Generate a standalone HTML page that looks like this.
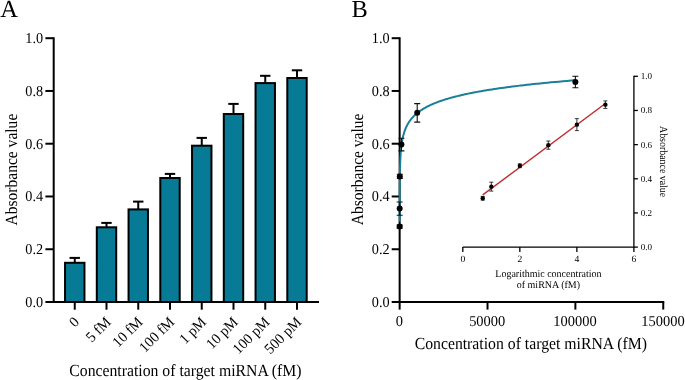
<!DOCTYPE html>
<html><head><meta charset="utf-8"><style>
html,body{margin:0;padding:0;background:#fff;width:685px;height:380px;overflow:hidden}
svg{display:block;font-family:"Liberation Serif", serif;will-change:transform;text-rendering:geometricPrecision}
</style></head><body>
<svg width="685" height="380" viewBox="0 0 685 380" font-family='"Liberation Serif", serif' fill="#000">
<text x="0.2" y="16.9" font-size="24.5">A</text>
<line x1="45.4" y1="302.00" x2="53.7" y2="302.00" stroke="#000" stroke-width="2.0"/>
<text font-size="15" text-anchor="end" transform="translate(43.1,307.00) scale(0.95,1)">0.0</text>
<line x1="45.4" y1="249.24" x2="53.7" y2="249.24" stroke="#000" stroke-width="2.0"/>
<text font-size="15" text-anchor="end" transform="translate(43.1,254.24) scale(0.95,1)">0.2</text>
<line x1="45.4" y1="196.48" x2="53.7" y2="196.48" stroke="#000" stroke-width="2.0"/>
<text font-size="15" text-anchor="end" transform="translate(43.1,201.48) scale(0.95,1)">0.4</text>
<line x1="45.4" y1="143.72" x2="53.7" y2="143.72" stroke="#000" stroke-width="2.0"/>
<text font-size="15" text-anchor="end" transform="translate(43.1,148.72) scale(0.95,1)">0.6</text>
<line x1="45.4" y1="90.96" x2="53.7" y2="90.96" stroke="#000" stroke-width="2.0"/>
<text font-size="15" text-anchor="end" transform="translate(43.1,95.96) scale(0.95,1)">0.8</text>
<line x1="45.4" y1="38.20" x2="53.7" y2="38.20" stroke="#000" stroke-width="2.0"/>
<text font-size="15" text-anchor="end" transform="translate(43.1,43.20) scale(0.95,1)">1.0</text>
<line x1="74.75" y1="262.80" x2="74.75" y2="257.90" stroke="#000" stroke-width="2"/>
<line x1="69.55" y1="257.90" x2="79.95" y2="257.90" stroke="#000" stroke-width="2"/>
<rect x="65.05" y="262.80" width="19.4" height="39.20" fill="#077b95" stroke="#000" stroke-width="2"/>
<line x1="74.75" y1="302.0" x2="74.75" y2="309.7" stroke="#000" stroke-width="2.0"/>
<text font-size="15" text-anchor="end" transform="translate(80.05,322.90) rotate(-45) scale(0.96,1)">0</text>
<line x1="106.50" y1="227.30" x2="106.50" y2="222.90" stroke="#000" stroke-width="2"/>
<line x1="101.30" y1="222.90" x2="111.70" y2="222.90" stroke="#000" stroke-width="2"/>
<rect x="96.80" y="227.30" width="19.4" height="74.70" fill="#077b95" stroke="#000" stroke-width="2"/>
<line x1="106.50" y1="302.0" x2="106.50" y2="309.7" stroke="#000" stroke-width="2.0"/>
<text font-size="15" text-anchor="end" transform="translate(111.80,322.90) rotate(-45) scale(0.96,1)">5 fM</text>
<line x1="138.25" y1="209.40" x2="138.25" y2="201.60" stroke="#000" stroke-width="2"/>
<line x1="133.05" y1="201.60" x2="143.45" y2="201.60" stroke="#000" stroke-width="2"/>
<rect x="128.55" y="209.40" width="19.4" height="92.60" fill="#077b95" stroke="#000" stroke-width="2"/>
<line x1="138.25" y1="302.0" x2="138.25" y2="309.7" stroke="#000" stroke-width="2.0"/>
<text font-size="15" text-anchor="end" transform="translate(143.55,322.90) rotate(-45) scale(0.96,1)">10 fM</text>
<line x1="170.00" y1="178.00" x2="170.00" y2="173.90" stroke="#000" stroke-width="2"/>
<line x1="164.80" y1="173.90" x2="175.20" y2="173.90" stroke="#000" stroke-width="2"/>
<rect x="160.30" y="178.00" width="19.4" height="124.00" fill="#077b95" stroke="#000" stroke-width="2"/>
<line x1="170.00" y1="302.0" x2="170.00" y2="309.7" stroke="#000" stroke-width="2.0"/>
<text font-size="15" text-anchor="end" transform="translate(175.30,322.90) rotate(-45) scale(0.96,1)">100 fM</text>
<line x1="201.75" y1="145.70" x2="201.75" y2="137.90" stroke="#000" stroke-width="2"/>
<line x1="196.55" y1="137.90" x2="206.95" y2="137.90" stroke="#000" stroke-width="2"/>
<rect x="192.05" y="145.70" width="19.4" height="156.30" fill="#077b95" stroke="#000" stroke-width="2"/>
<line x1="201.75" y1="302.0" x2="201.75" y2="309.7" stroke="#000" stroke-width="2.0"/>
<text font-size="15" text-anchor="end" transform="translate(207.05,322.90) rotate(-45) scale(0.96,1)">1 pM</text>
<line x1="233.50" y1="114.00" x2="233.50" y2="103.90" stroke="#000" stroke-width="2"/>
<line x1="228.30" y1="103.90" x2="238.70" y2="103.90" stroke="#000" stroke-width="2"/>
<rect x="223.80" y="114.00" width="19.4" height="188.00" fill="#077b95" stroke="#000" stroke-width="2"/>
<line x1="233.50" y1="302.0" x2="233.50" y2="309.7" stroke="#000" stroke-width="2.0"/>
<text font-size="15" text-anchor="end" transform="translate(238.80,322.90) rotate(-45) scale(0.96,1)">10 pM</text>
<line x1="265.25" y1="83.10" x2="265.25" y2="75.80" stroke="#000" stroke-width="2"/>
<line x1="260.05" y1="75.80" x2="270.45" y2="75.80" stroke="#000" stroke-width="2"/>
<rect x="255.55" y="83.10" width="19.4" height="218.90" fill="#077b95" stroke="#000" stroke-width="2"/>
<line x1="265.25" y1="302.0" x2="265.25" y2="309.7" stroke="#000" stroke-width="2.0"/>
<text font-size="15" text-anchor="end" transform="translate(270.55,322.90) rotate(-45) scale(0.96,1)">100 pM</text>
<line x1="297.00" y1="78.00" x2="297.00" y2="70.30" stroke="#000" stroke-width="2"/>
<line x1="291.80" y1="70.30" x2="302.20" y2="70.30" stroke="#000" stroke-width="2"/>
<rect x="287.30" y="78.00" width="19.4" height="224.00" fill="#077b95" stroke="#000" stroke-width="2"/>
<line x1="297.00" y1="302.0" x2="297.00" y2="309.7" stroke="#000" stroke-width="2.0"/>
<text font-size="15" text-anchor="end" transform="translate(302.30,322.90) rotate(-45) scale(0.96,1)">500 pM</text>
<line x1="53.7" y1="37.2" x2="53.7" y2="303.0" stroke="#000" stroke-width="2.0"/>
<line x1="52.7" y1="302.0" x2="319" y2="302.0" stroke="#000" stroke-width="2.0"/>
<text font-size="17" text-anchor="middle" transform="translate(185.4,376.2) scale(0.926,1)">Concentration of target miRNA (fM)</text>
<text font-size="17" text-anchor="middle" transform="translate(17.0,169.6) rotate(-90) scale(0.914,1)">Absorbance value</text>
<text x="351.4" y="16.9" font-size="24.4">B</text>
<line x1="391.7" y1="302.00" x2="399.65" y2="302.00" stroke="#000" stroke-width="2.0"/>
<text font-size="15" text-anchor="end" transform="translate(389.6,307.00) scale(0.95,1)">0.0</text>
<line x1="391.7" y1="249.24" x2="399.65" y2="249.24" stroke="#000" stroke-width="2.0"/>
<text font-size="15" text-anchor="end" transform="translate(389.6,254.24) scale(0.95,1)">0.2</text>
<line x1="391.7" y1="196.48" x2="399.65" y2="196.48" stroke="#000" stroke-width="2.0"/>
<text font-size="15" text-anchor="end" transform="translate(389.6,201.48) scale(0.95,1)">0.4</text>
<line x1="391.7" y1="143.72" x2="399.65" y2="143.72" stroke="#000" stroke-width="2.0"/>
<text font-size="15" text-anchor="end" transform="translate(389.6,148.72) scale(0.95,1)">0.6</text>
<line x1="391.7" y1="90.96" x2="399.65" y2="90.96" stroke="#000" stroke-width="2.0"/>
<text font-size="15" text-anchor="end" transform="translate(389.6,95.96) scale(0.95,1)">0.8</text>
<line x1="391.7" y1="38.20" x2="399.65" y2="38.20" stroke="#000" stroke-width="2.0"/>
<text font-size="15" text-anchor="end" transform="translate(389.6,43.20) scale(0.95,1)">1.0</text>
<line x1="399.65" y1="302.0" x2="399.65" y2="309.6" stroke="#000" stroke-width="2.0"/>
<text font-size="15" text-anchor="middle" transform="translate(399.35,326) scale(0.965,1)">0</text>
<line x1="487.52" y1="302.0" x2="487.52" y2="309.6" stroke="#000" stroke-width="2.0"/>
<text font-size="15" text-anchor="middle" transform="translate(487.22,326) scale(0.965,1)">50000</text>
<line x1="575.38" y1="302.0" x2="575.38" y2="309.6" stroke="#000" stroke-width="2.0"/>
<text font-size="15" text-anchor="middle" transform="translate(575.08,326) scale(0.965,1)">100000</text>
<line x1="663.25" y1="302.0" x2="663.25" y2="309.6" stroke="#000" stroke-width="2.0"/>
<text font-size="15" text-anchor="middle" transform="translate(662.95,326) scale(0.965,1)">150000</text>
<line x1="399.65" y1="37.2" x2="399.65" y2="303.0" stroke="#000" stroke-width="2.0"/>
<line x1="398.65" y1="302.0" x2="664.25" y2="302.0" stroke="#000" stroke-width="2.0"/>
<text font-size="17" text-anchor="middle" transform="translate(530.8,348.6) scale(0.926,1)">Concentration of target miRNA (fM)</text>
<text font-size="17" text-anchor="middle" transform="translate(363.2,169.4) rotate(-90) scale(0.914,1)">Absorbance value</text>
<line x1="462.8" y1="247.1" x2="633.9" y2="247.1" stroke="#000" stroke-width="1.3"/>
<line x1="462.80" y1="247.1" x2="462.80" y2="252" stroke="#000" stroke-width="1.3"/>
<text x="462.80" y="262.3" font-size="9.6" text-anchor="middle">0</text>
<line x1="519.83" y1="247.1" x2="519.83" y2="252" stroke="#000" stroke-width="1.3"/>
<text x="519.83" y="262.3" font-size="9.6" text-anchor="middle">2</text>
<line x1="576.87" y1="247.1" x2="576.87" y2="252" stroke="#000" stroke-width="1.3"/>
<text x="576.87" y="262.3" font-size="9.6" text-anchor="middle">4</text>
<line x1="633.90" y1="247.1" x2="633.90" y2="252" stroke="#000" stroke-width="1.3"/>
<text x="633.90" y="262.3" font-size="9.6" text-anchor="middle">6</text>
<line x1="633.9" y1="75.70" x2="633.9" y2="247.70" stroke="#000" stroke-width="1.3"/>
<line x1="633.9" y1="247.10" x2="637.9" y2="247.10" stroke="#000" stroke-width="1.3"/>
<text x="640.7" y="250.00" font-size="9.1">0.0</text>
<line x1="633.9" y1="212.94" x2="637.9" y2="212.94" stroke="#000" stroke-width="1.3"/>
<text x="640.7" y="215.84" font-size="9.1">0.2</text>
<line x1="633.9" y1="178.78" x2="637.9" y2="178.78" stroke="#000" stroke-width="1.3"/>
<text x="640.7" y="181.68" font-size="9.1">0.4</text>
<line x1="633.9" y1="144.62" x2="637.9" y2="144.62" stroke="#000" stroke-width="1.3"/>
<text x="640.7" y="147.52" font-size="9.1">0.6</text>
<line x1="633.9" y1="110.46" x2="637.9" y2="110.46" stroke="#000" stroke-width="1.3"/>
<text x="640.7" y="113.36" font-size="9.1">0.8</text>
<line x1="633.9" y1="76.30" x2="637.9" y2="76.30" stroke="#000" stroke-width="1.3"/>
<text x="640.7" y="79.20" font-size="9.1">1.0</text>
<text font-size="10.4" text-anchor="middle" transform="translate(548.4,276.9) scale(0.96,1)">Logarithmic concentration</text>
<text font-size="10.4" text-anchor="middle" transform="translate(548.4,288.3) scale(0.96,1)">of miRNA (fM)</text>
<text font-size="11" text-anchor="middle" transform="translate(659.6,161.6) rotate(90) scale(0.9,1)">Absorbance value</text>
<line x1="482.73" y1="194.97" x2="605.38" y2="103.51" stroke="#bf2e2e" stroke-width="1.5"/>
<path d="M480.73 196.37H484.73M482.73 196.37V200.13M480.73 200.13H484.73" stroke="#222" stroke-width="0.9" fill="none"/>
<circle cx="482.73" cy="198.25" r="2.2" fill="#000"/>
<path d="M489.32 182.20H493.32M491.32 182.20V191.08M489.32 191.08H493.32" stroke="#222" stroke-width="0.9" fill="none"/>
<circle cx="491.32" cy="186.64" r="2.2" fill="#000"/>
<path d="M517.83 163.92H521.83M519.83 163.92V167.68M517.83 167.68H521.83" stroke="#222" stroke-width="0.9" fill="none"/>
<circle cx="519.83" cy="165.80" r="2.2" fill="#000"/>
<path d="M546.35 141.03H550.35M548.35 141.03V149.23M546.35 149.23H550.35" stroke="#222" stroke-width="0.9" fill="none"/>
<circle cx="548.35" cy="145.13" r="2.2" fill="#000"/>
<path d="M574.87 118.66H578.87M576.87 118.66V130.61M574.87 130.61H578.87" stroke="#222" stroke-width="0.9" fill="none"/>
<circle cx="576.87" cy="124.64" r="2.2" fill="#000"/>
<path d="M603.38 100.90H607.38M605.38 100.90V108.41M603.38 108.41H607.38" stroke="#222" stroke-width="0.9" fill="none"/>
<circle cx="605.38" cy="104.65" r="2.2" fill="#000"/>
<path d="M399.659 221.482 L399.659 221.129 L399.659 220.776 L399.659 220.423 L399.660 220.070 L399.660 219.717 L399.660 219.364 L399.660 219.010 L399.661 218.657 L399.661 218.304 L399.661 217.951 L399.662 217.598 L399.662 217.245 L399.662 216.892 L399.662 216.538 L399.663 216.185 L399.663 215.832 L399.663 215.479 L399.664 215.126 L399.664 214.773 L399.664 214.420 L399.665 214.066 L399.665 213.713 L399.666 213.360 L399.666 213.007 L399.666 212.654 L399.667 212.301 L399.667 211.948 L399.668 211.594 L399.668 211.241 L399.668 210.888 L399.669 210.535 L399.669 210.182 L399.670 209.829 L399.670 209.475 L399.671 209.122 L399.671 208.769 L399.672 208.416 L399.673 208.063 L399.673 207.710 L399.674 207.357 L399.674 207.003 L399.675 206.650 L399.675 206.297 L399.676 205.944 L399.677 205.591 L399.677 205.238 L399.678 204.885 L399.679 204.531 L399.680 204.178 L399.680 203.825 L399.681 203.472 L399.682 203.119 L399.683 202.766 L399.683 202.413 L399.684 202.059 L399.685 201.706 L399.686 201.353 L399.687 201.000 L399.688 200.647 L399.689 200.294 L399.690 199.940 L399.691 199.587 L399.692 199.234 L399.693 198.881 L399.694 198.528 L399.695 198.175 L399.696 197.822 L399.697 197.468 L399.699 197.115 L399.700 196.762 L399.701 196.409 L399.702 196.056 L399.704 195.703 L399.705 195.350 L399.706 194.996 L399.708 194.643 L399.709 194.290 L399.711 193.937 L399.712 193.584 L399.714 193.231 L399.715 192.878 L399.717 192.524 L399.719 192.171 L399.720 191.818 L399.722 191.465 L399.724 191.112 L399.726 190.759 L399.728 190.405 L399.730 190.052 L399.732 189.699 L399.734 189.346 L399.736 188.993 L399.738 188.640 L399.740 188.287 L399.742 187.933 L399.745 187.580 L399.747 187.227 L399.749 186.874 L399.752 186.521 L399.754 186.168 L399.757 185.815 L399.760 185.461 L399.763 185.108 L399.765 184.755 L399.768 184.402 L399.771 184.049 L399.774 183.696 L399.777 183.343 L399.781 182.989 L399.784 182.636 L399.787 182.283 L399.791 181.930 L399.794 181.577 L399.798 181.224 L399.801 180.870 L399.805 180.517 L399.809 180.164 L399.813 179.811 L399.817 179.458 L399.821 179.105 L399.826 178.752 L399.830 178.398 L399.835 178.045 L399.839 177.692 L399.844 177.339 L399.849 176.986 L399.854 176.633 L399.859 176.280 L399.864 175.926 L399.870 175.573 L399.875 175.220 L399.881 174.867 L399.887 174.514 L399.892 174.161 L399.899 173.808 L399.905 173.454 L399.911 173.101 L399.918 172.748 L399.924 172.395 L399.931 172.042 L399.938 171.689 L399.946 171.335 L399.953 170.982 L399.961 170.629 L399.968 170.276 L399.976 169.923 L399.985 169.570 L399.993 169.217 L400.002 168.863 L400.010 168.510 L400.019 168.157 L400.029 167.804 L400.038 167.451 L400.048 167.098 L400.058 166.745 L400.068 166.391 L400.079 166.038 L400.089 165.685 L400.100 165.332 L400.112 164.979 L400.123 164.626 L400.135 164.273 L400.147 163.919 L400.160 163.566 L400.172 163.213 L400.185 162.860 L400.199 162.507 L400.213 162.154 L400.227 161.801 L400.241 161.447 L400.256 161.094 L400.271 160.741 L400.287 160.388 L400.303 160.035 L400.319 159.682 L400.336 159.328 L400.353 158.975 L400.371 158.622 L400.389 158.269 L400.407 157.916 L400.426 157.563 L400.446 157.210 L400.466 156.856 L400.486 156.503 L400.507 156.150 L400.529 155.797 L400.551 155.444 L400.573 155.091 L400.596 154.738 L400.620 154.384 L400.644 154.031 L400.669 153.678 L400.695 153.325 L400.721 152.972 L400.748 152.619 L400.775 152.266 L400.804 151.912 L400.833 151.559 L400.862 151.206 L400.893 150.853 L400.924 150.500 L400.956 150.147 L400.988 149.793 L401.022 149.440 L401.056 149.087 L401.092 148.734 L401.128 148.381 L401.165 148.028 L401.203 147.675 L401.242 147.321 L401.282 146.968 L401.323 146.615 L401.364 146.262 L401.407 145.909 L401.451 145.556 L401.497 145.203 L401.543 144.849 L401.590 144.496 L401.639 144.143 L401.689 143.790 L401.740 143.437 L401.792 143.084 L401.846 142.731 L401.901 142.377 L401.958 142.024 L402.015 141.671 L402.075 141.318 L402.135 140.965 L402.198 140.612 L402.262 140.258 L402.327 139.905 L402.394 139.552 L402.463 139.199 L402.534 138.846 L402.606 138.493 L402.680 138.140 L402.756 137.786 L402.834 137.433 L402.914 137.080 L402.995 136.727 L403.079 136.374 L403.165 136.021 L403.253 135.668 L403.344 135.314 L403.436 134.961 L403.531 134.608 L403.628 134.255 L403.728 133.902 L403.830 133.549 L403.935 133.196 L404.043 132.842 L404.153 132.489 L404.266 132.136 L404.381 131.783 L404.500 131.430 L404.621 131.077 L404.746 130.723 L404.874 130.370 L405.005 130.017 L405.139 129.664 L405.277 129.311 L405.418 128.958 L405.562 128.605 L405.710 128.251 L405.862 127.898 L406.018 127.545 L406.178 127.192 L406.341 126.839 L406.509 126.486 L406.681 126.133 L406.857 125.779 L407.038 125.426 L407.223 125.073 L407.413 124.720 L407.608 124.367 L407.807 124.014 L408.012 123.661 L408.221 123.307 L408.436 122.954 L408.656 122.601 L408.882 122.248 L409.113 121.895 L409.351 121.542 L409.594 121.188 L409.843 120.835 L410.099 120.482 L410.361 120.129 L410.629 119.776 L410.904 119.423 L411.186 119.070 L411.476 118.716 L411.772 118.363 L412.076 118.010 L412.387 117.657 L412.707 117.304 L413.034 116.951 L413.370 116.598 L413.713 116.244 L414.066 115.891 L414.427 115.538 L414.798 115.185 L415.178 114.832 L415.567 114.479 L415.966 114.126 L416.375 113.772 L416.794 113.419 L417.224 113.066 L417.664 112.713 L418.116 112.360 L418.579 112.007 L419.053 111.654 L419.540 111.300 L420.038 110.947 L420.549 110.594 L421.073 110.241 L421.610 109.888 L422.161 109.535 L422.725 109.181 L423.304 108.828 L423.896 108.475 L424.504 108.122 L425.127 107.769 L425.766 107.416 L426.421 107.063 L427.092 106.709 L427.780 106.356 L428.485 106.003 L429.208 105.650 L429.949 105.297 L430.708 104.944 L431.487 104.591 L432.285 104.237 L433.103 103.884 L433.941 103.531 L434.801 103.178 L435.682 102.825 L436.585 102.472 L437.511 102.119 L438.460 101.765 L439.433 101.412 L440.430 101.059 L441.453 100.706 L442.501 100.353 L443.575 100.000 L444.676 99.646 L445.805 99.293 L446.962 98.940 L448.148 98.587 L449.363 98.234 L450.610 97.881 L451.887 97.528 L453.196 97.174 L454.539 96.821 L455.915 96.468 L457.325 96.115 L458.771 95.762 L460.253 95.409 L461.772 95.056 L463.329 94.702 L464.926 94.349 L466.562 93.996 L468.239 93.643 L469.959 93.290 L471.721 92.937 L473.528 92.584 L475.380 92.230 L477.278 91.877 L479.224 91.524 L481.219 91.171 L483.264 90.818 L485.360 90.465 L487.508 90.111 L489.711 89.758 L491.968 89.405 L494.282 89.052 L496.655 88.699 L499.086 88.346 L501.579 87.993 L504.134 87.639 L506.753 87.286 L509.438 86.933 L512.190 86.580 L515.011 86.227 L517.903 85.874 L520.868 85.521 L523.906 85.167 L527.021 84.814 L530.214 84.461 L533.487 84.108 L536.842 83.755 L540.281 83.402 L543.806 83.049 L547.420 82.695 L551.124 82.342 L554.921 81.989 L558.814 81.636 L562.804 81.283 L566.893 80.930 L571.086 80.576 L575.383 80.223" stroke="#1a7f99" stroke-width="2" fill="none"/>
<path d="M396.66 224.97H402.66M399.66 224.97V228.14M396.66 228.14H402.66" stroke="#111" stroke-width="1.1" fill="none"/>
<circle cx="399.66" cy="226.55" r="3.0" fill="#000"/>
<path d="M396.67 202.02H402.67M399.67 202.02V215.21M396.67 215.21H402.67" stroke="#111" stroke-width="1.1" fill="none"/>
<circle cx="399.67" cy="208.61" r="3.0" fill="#000"/>
<path d="M396.83 174.32H402.83M399.83 174.32V178.54M396.83 178.54H402.83" stroke="#111" stroke-width="1.1" fill="none"/>
<circle cx="399.83" cy="176.43" r="3.0" fill="#000"/>
<path d="M398.41 138.18H404.41M401.41 138.18V150.84M398.41 150.84H404.41" stroke="#111" stroke-width="1.1" fill="none"/>
<circle cx="401.41" cy="144.51" r="3.0" fill="#000"/>
<path d="M414.22 103.62H420.22M417.22 103.62V122.09M414.22 122.09H420.22" stroke="#111" stroke-width="1.1" fill="none"/>
<circle cx="417.22" cy="112.86" r="3.0" fill="#000"/>
<path d="M572.38 76.19H578.38M575.38 76.19V87.79M572.38 87.79H578.38" stroke="#111" stroke-width="1.1" fill="none"/>
<circle cx="575.38" cy="81.99" r="3.0" fill="#000"/>
</svg>
</body></html>
